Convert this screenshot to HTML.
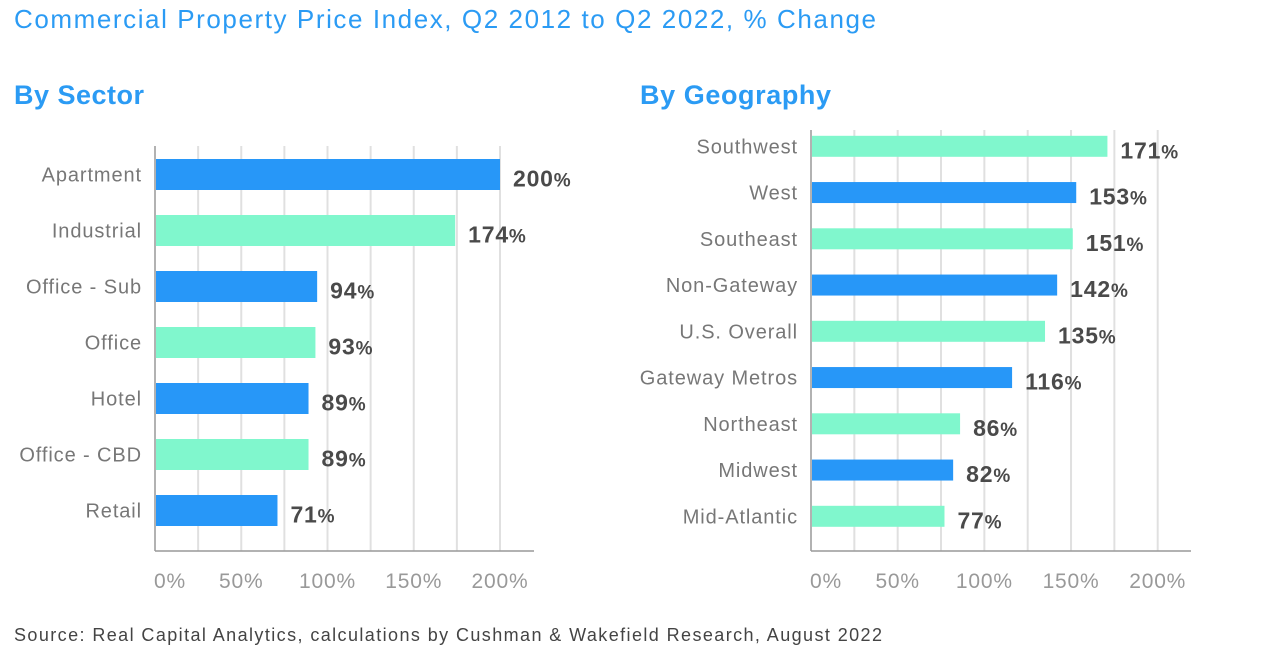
<!DOCTYPE html>
<html><head><meta charset="utf-8"><style>
body{margin:0;background:#fff;width:1262px;height:661px;overflow:hidden;font-family:"Liberation Sans",sans-serif;}
svg text{font-family:"Liberation Sans",sans-serif;}
</style></head><body>
<svg id="c" width="1262" height="661">
<text x="14" y="28" font-size="26" fill="#2b9bf4" textLength="862" lengthAdjust="spacing">Commercial Property Price Index, Q2 2012 to Q2 2022, % Change</text>
<text x="14" y="104" font-size="27" font-weight="bold" fill="#2b9bf4" textLength="130">By Sector</text>
<text x="640" y="104" font-size="27" font-weight="bold" fill="#2b9bf4" textLength="191">By Geography</text>
<text x="14" y="641" font-size="18" fill="#444" textLength="868" lengthAdjust="spacing">Source: Real Capital Analytics, calculations by Cushman &amp; Wakefield Research, August 2022</text>
</svg>
<script>
const sectorCats=["Apartment","Industrial","Office - Sub","Office","Hotel","Office - CBD","Retail"];
const sectorVals=[200,174,94,93,89,89,71];
const geoCats=["Southwest","West","Southeast","Non-Gateway","U.S. Overall","Gateway Metros","Northeast","Midwest","Mid-Atlantic"];
const geoVals=[171,153,151,142,135,116,86,82,77];
const tickVals=[0,50,100,150,200];
const tickLabels=["0%","50%","100%","150%","200%"];
const NS="http://www.w3.org/2000/svg";
const svg=document.getElementById('c');
function mk(t,a){const e=document.createElementNS(NS,t);for(const k in a)e.setAttribute(k,a[k]);svg.appendChild(e);return e;}
function panel(cfg,cats,vals,prefix){
  const x=v=>cfg.x0+(v/200)*(cfg.x200-cfg.x0);
  for(let i=1;i<=8;i++){const gx=x(i*25);
    const g=mk('line',{x1:gx,x2:gx,y1:cfg.top,y2:cfg.bottom,stroke:'#e0e0e0','stroke-width':2});
    
    }
  const ya=mk('line',{x1:cfg.x0,x2:cfg.x0,y1:cfg.top,y2:cfg.bottom,stroke:'#999','stroke-width':1.5});
  
  
  const xa=mk('line',{x1:cfg.x0,x2:cfg.xend,y1:cfg.bottom,y2:cfg.bottom,stroke:'#999','stroke-width':1.5});
  
  
  tickVals.forEach((v,i)=>{
    const t=mk('text',{x:x(v)+(i==0?15:0),y:588,'font-size':21,fill:'#999','text-anchor':'middle','letter-spacing':0.8});
    t.textContent=tickLabels[i];
    
    
  });
  cats.forEach((c,i)=>{
    const cy=cfg.y0+i*cfg.step;
    const b=mk('rect',{x:cfg.x0+1,y:cy-cfg.h/2,width:Math.max(0,x(vals[i])-cfg.x0-1),height:cfg.h,fill:(i%2==cfg.blueParity)?'#2797f8':'#80f7cd'});
    
    
    const l=mk('text',{x:cfg.x0-13,y:cy+7,'font-size':20,fill:'#777','text-anchor':'end','letter-spacing':0.9});
    l.textContent=c;
    
    
    const vl=mk('text',{x:x(vals[i])+13,y:cy+cfg.vdy,'font-size':23,'font-weight':'bold',fill:'#4a4a4a','letter-spacing':0.8});
    vl.innerHTML=vals[i]+'<tspan font-size="19">%</tspan>';
    
    
  });
}
panel({x0:155,x200:500,xend:534,top:146,bottom:551,y0:174.5,step:56,h:31,blueParity:0,vdy:12},sectorCats,sectorVals,'sector');
panel({x0:811,x200:1157.7,xend:1191,top:130,bottom:551,y0:146.3,step:46.25,h:21,blueParity:1,vdy:12},geoCats,geoVals,'geo');
</script>
</body></html>
